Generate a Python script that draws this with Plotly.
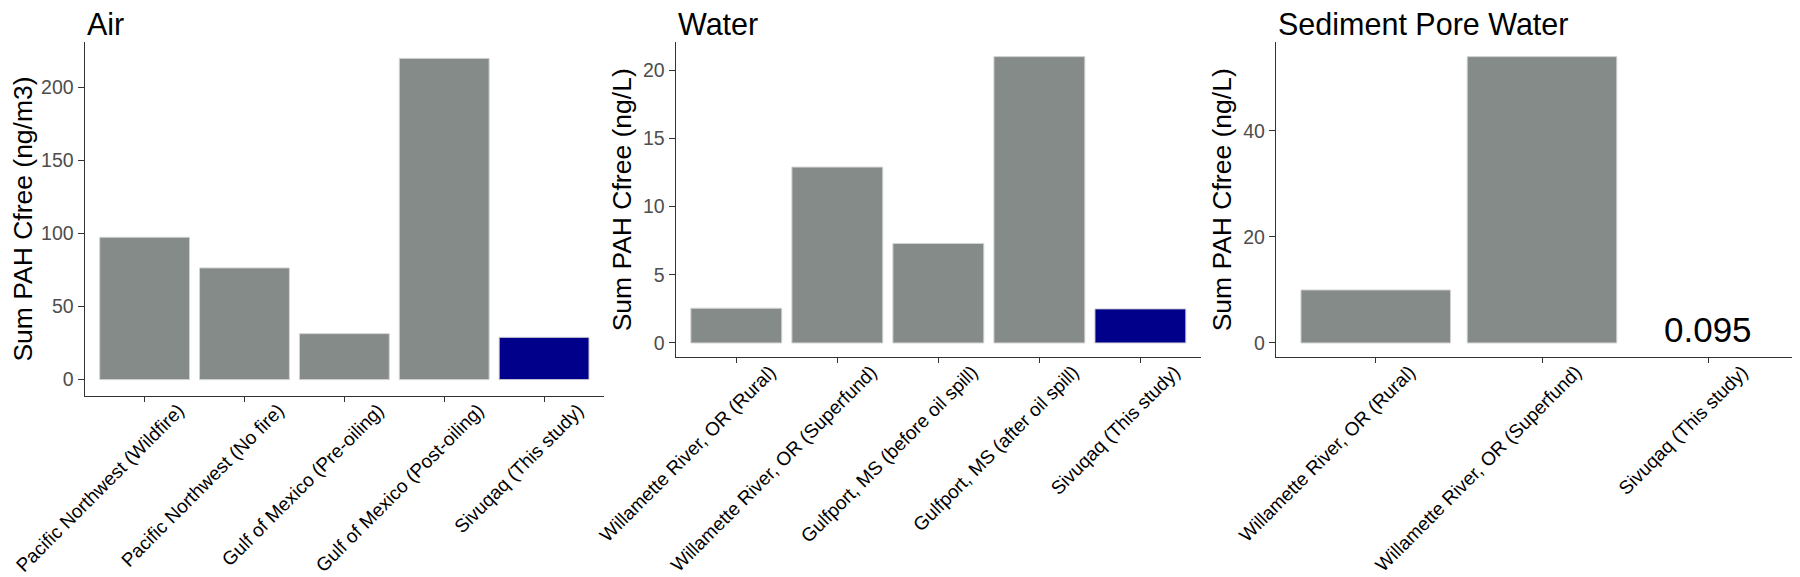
import plotly.graph_objects as go
from plotly.subplots import make_subplots

# ---- data ----
air_sites = ["Pacific Northwest (Wildfire)", "Pacific Northwest (No fire)",
             "Gulf of Mexico (Pre-oiling)", "Gulf of Mexico (Post-oiling)",
             "Sivuqaq (This study)"]
air_values = [97.5, 76.5, 31.5, 220.0, 29.0]

water_sites = ["Willamette River, OR (Rural)", "Willamette River, OR (Superfund)",
               "Gulfport, MS (before oil spill)", "Gulfport, MS (after oil spill)",
               "Sivuqaq (This study)"]
water_values = [2.55, 12.9, 7.3, 21.0, 2.5]

pore_sites = ["Willamette River, OR (Rural)", "Willamette River, OR (Superfund)",
              "Sivuqaq (This study)"]
pore_values = [10.0, 54.0, 0.095]

panel_titles = ["Air", "Water", "Sediment Pore Water"]
y_titles = ["Sum PAH Cfree (ng/m3)", "Sum PAH Cfree (ng/L)", "Sum PAH Cfree (ng/L)"]
air_ticks = [0, 50, 100, 150, 200]
water_ticks = [0, 5, 10, 15, 20]
pore_ticks = [0, 20, 40]
pore_label = "0.095"

GREY = "#858B89"
BLUE = "#00008B"
FONT = "Liberation Sans, Arial, sans-serif"
W, H = 1800, 577

fig = make_subplots(rows=1, cols=3)

panels = [
    (air_sites, air_values, air_ticks),
    (water_sites, water_values, water_ticks),
    (pore_sites, pore_values, pore_ticks),
]

# pixel geometry
x_dom_px = [(76.7, 596), (667.7, 1193), (1268, 1800)]
y_dom_px = [(34.3, 387.7), (34.3, 349.3), (34.3, 349.3)]

for i, (sites, vals, ticks) in enumerate(panels):
    if i == 2:
        colors = [GREY if "This study" not in s else "rgba(0,0,0,0)" for s in sites]
        lcolors = ["#D4D4D4" if "This study" not in s else "rgba(0,0,0,0)" for s in sites]
    else:
        colors = [BLUE if "This study" in s else GREY for s in sites]
        lcolors = ["#D4D4D4" for s in sites]
    fig.add_trace(go.Bar(x=sites, y=vals, marker=dict(color=colors,
                  line=dict(color=lcolors, width=1)), width=0.9,
                  showlegend=False, hoverinfo="x+y"), row=1, col=i + 1)
    vmax = max(vals)
    n = len(sites)
    ax = "xaxis" if i == 0 else f"xaxis{i+1}"
    ay = "yaxis" if i == 0 else f"yaxis{i+1}"
    x0, x1 = x_dom_px[i]
    yt, yb = y_dom_px[i]
    fig.layout[ax].update(
        domain=[x0 / W, x1 / W], range=[-0.6, n - 0.4], automargin=False,
        showline=True, linecolor="#333333", linewidth=1.3,
        ticks="outside", ticklen=5, tickcolor="#333333", tickwidth=1.3,
        tickangle=-45, tickfont=dict(family=FONT, size=19, color="#000000"),
        showgrid=False, zeroline=False, ticklabelshift=34, ticklabelstandoff=-10,
    )
    fig.layout[ay].update(
        domain=[1 - yb / H, 1 - yt / H], range=[-0.05 * vmax, 1.05 * vmax],
        automargin=False,
        showline=True, linecolor="#333333", linewidth=1.3,
        ticks="outside", ticklen=6, tickcolor="#333333", tickwidth=1.3,
        tickvals=ticks, tickfont=dict(family=FONT, size=19.5, color="#4D4D4D"),
        showgrid=False, zeroline=False,
        title=dict(text=y_titles[i], font=dict(family=FONT, size=26.5, color="#000000"),
                   standoff=3),
    )
    fig.add_annotation(text=panel_titles[i], xref="paper", yref="paper",
                       x=x0 / W, y=1 - 16 / H, xanchor="left", yanchor="middle",
                       showarrow=False, font=dict(family=FONT, size=30.5, color="#000000"))

fig.add_annotation(text=pore_label, xref="x3", yref="y3", x=pore_sites[2], y=0,
                   xanchor="center", yanchor="bottom", yshift=-8, showarrow=False,
                   font=dict(family=FONT, size=35, color="#000000"))

fig.update_layout(width=W, height=H, margin=dict(l=0, r=0, t=0, b=0),
                  plot_bgcolor="white", paper_bgcolor="white", bargap=0.1)

fig.write_html("out.html")
